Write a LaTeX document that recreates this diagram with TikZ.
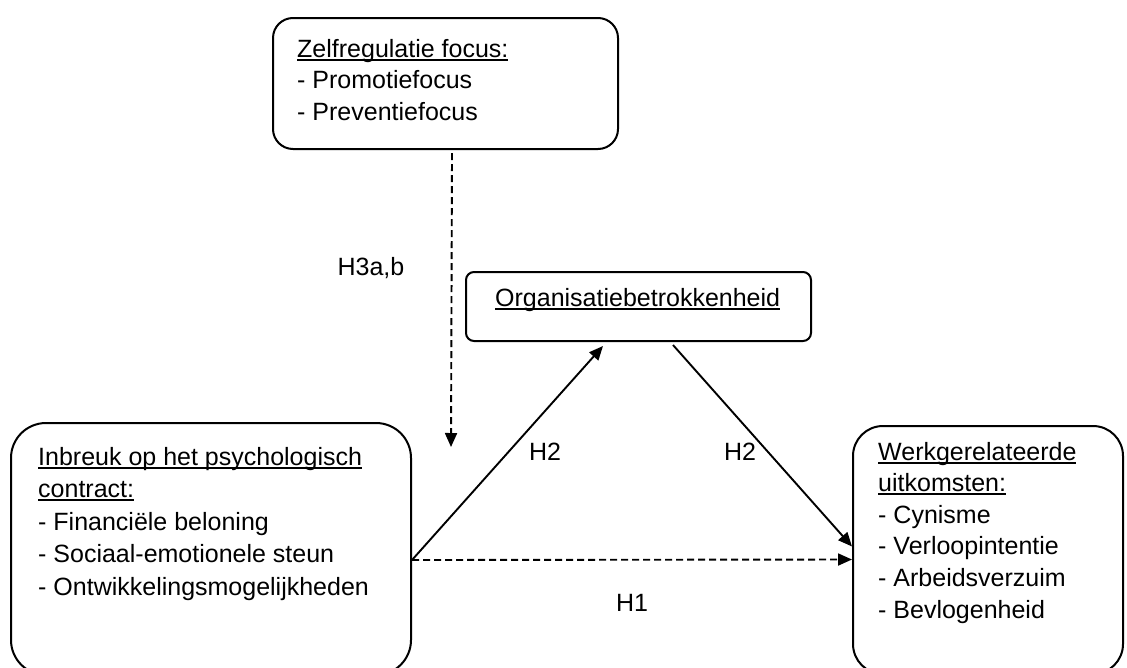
\documentclass[tikz,border=0pt]{standalone}
\usepackage{fontspec}
\setmainfont{Liberation Sans}
\usetikzlibrary{arrows.meta}
\newcommand\myul[1]{\setbox0\hbox{#1}\rlap{\rule[-3.6pt]{\wd0}{1.8pt}}\box0}
\tikzset{
  box/.style={draw, line width=2pt, inner sep=0pt, anchor=north west},
  txt/.style={anchor=base west, inner sep=0pt, align=left},
  lbl/.style={inner sep=0pt, font=\fontsize{25}{30}\selectfont},
  conn/.style={line width=1.9pt, -{Triangle[length=14pt,width=12pt]}},
  dconn/.style={conn, dash pattern=on 7pt off 4pt}
}
\begin{document}
\begin{tikzpicture}[x=1pt,y=-1pt]
\useasboundingbox (0,0) rectangle (1127,667);
\clip (0,0) rectangle (1127,667);
% boxes
\node[box, rounded corners=20pt, minimum width=345pt, minimum height=131pt] (zf) at (272,17) {};
\node[box, rounded corners=8pt, minimum width=345pt, minimum height=69pt] (ob) at (465,271) {};
\node[box, rounded corners=35pt, minimum width=400pt, minimum height=252pt] (lb) at (10,422) {};
\node[box, rounded corners=30pt, minimum width=270pt, minimum height=248pt] (rb) at (852,425) {};
% texts (anchored at the baseline of the last line)
\node[txt, font=\fontsize{25}{31.5}\selectfont] (zft) at (297,120) {\myul{Zelfregulatie focus:}\\- Promotiefocus\\- Preventiefocus};
\node[txt, font=\fontsize{25}{30}\selectfont] (obt) at (495,306) {\myul{Organisatiebetrokkenheid}};
\node[txt, font=\fontsize{25}{32.5}\selectfont] (lbt) at (38,595) {\myul{Inbreuk op het psychologisch}\\\myul{contract:}\\- Financiële beloning\\- Sociaal-emotionele steun\\- Ontwikkelingsmogelijkheden};
\node[txt, font=\fontsize{25}{31.6}\selectfont] (rbt) at (878,618) {\myul{Werkgerelateerde}\\\myul{uitkomsten:}\\- Cynisme\\- Verloopintentie\\- Arbeidsverzuim\\- Bevlogenheid};
% connectors
\coordinate (mod) at (451,447);
\draw[dconn] ([xshift=6.5pt,yshift=-3pt]zf.south) -- (mod);
\draw[conn] ([yshift=-11pt]lb.east) -- ([xshift=-35.5pt,yshift=-4pt]ob.south);
\draw[conn] ([xshift=34.5pt,yshift=-3pt]ob.south) -- ([yshift=3.5pt]rb.west);
\draw[dconn] ([yshift=-11pt]lb.east) -- ([yshift=-9.5pt]rb.west);
% labels
\node[lbl] (h3) at (371,268) {H3a,b};
\node[lbl] (h2a) at (545,452) {H2};
\node[lbl] (h2b) at (740,452) {H2};
\node[lbl] (h1) at (632,603) {H1};
\end{tikzpicture}
\end{document}
